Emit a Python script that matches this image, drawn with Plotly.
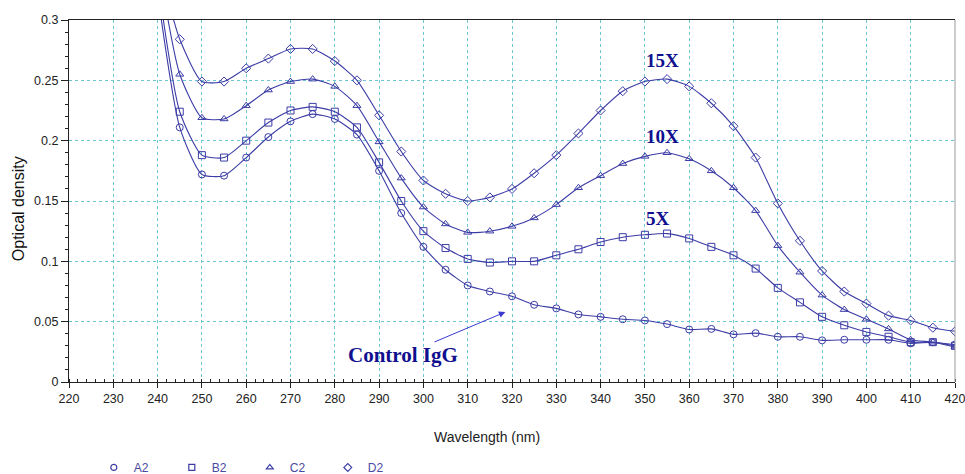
import plotly.graph_objects as go

wavelength = [240, 245, 250, 255, 260, 265, 270, 275, 280, 285, 290, 295, 300, 305, 310, 315, 320,
              325, 330, 335, 340, 345, 350, 355, 360, 365, 370, 375, 380, 385, 390, 395, 400, 405,
              410, 415, 420]

a2 = [0.322, 0.211, 0.172, 0.171, 0.186, 0.203, 0.216, 0.222, 0.218, 0.205, 0.175, 0.140, 0.112,
      0.093, 0.080, 0.075, 0.071, 0.064, 0.061, 0.056, 0.054, 0.052, 0.051, 0.048, 0.0435, 0.044,
      0.0395, 0.0405, 0.0375, 0.0375, 0.0345, 0.035, 0.035, 0.035, 0.032, 0.033, 0.031]
b2 = [0.333, 0.224, 0.188, 0.186, 0.200, 0.215, 0.225, 0.228, 0.224, 0.211, 0.182, 0.150, 0.125,
      0.111, 0.102, 0.099, 0.100, 0.100, 0.105, 0.110, 0.116, 0.120, 0.122, 0.123, 0.119, 0.112,
      0.105, 0.094, 0.078, 0.066, 0.054, 0.047, 0.0415, 0.0375, 0.033, 0.033, 0.030]
c2 = [0.350, 0.255, 0.219, 0.218, 0.229, 0.242, 0.249, 0.251, 0.245, 0.229, 0.199, 0.169, 0.145,
      0.131, 0.124, 0.125, 0.129, 0.136, 0.147, 0.161, 0.171, 0.181, 0.187, 0.190, 0.185, 0.175,
      0.161, 0.142, 0.113, 0.091, 0.072, 0.060, 0.052, 0.044, 0.035, 0.033, 0.029]
d2 = [0.350, 0.284, 0.249, 0.249, 0.260, 0.268, 0.276, 0.276, 0.266, 0.250, 0.221, 0.191, 0.167,
      0.156, 0.150, 0.153, 0.160, 0.173, 0.188, 0.206, 0.225, 0.241, 0.249, 0.251, 0.245, 0.231,
      0.212, 0.186, 0.148, 0.117, 0.092, 0.075, 0.065, 0.055, 0.051, 0.045, 0.042]

series_names = ["A2", "B2", "C2", "D2"]
series_values = [a2, b2, c2, d2]
series_symbols = ["circle-open", "square-open", "triangle-up-open", "diamond-open"]

x_ticks = [220, 230, 240, 250, 260, 270, 280, 290, 300, 310, 320, 330, 340, 350, 360, 370, 380,
           390, 400, 410, 420]
y_ticks = [0, 0.05, 0.1, 0.15, 0.2, 0.25, 0.3]
y_tick_labels = ["0", "0.05", "0.1", "0.15", "0.2", "0.25", "0.3"]

label_texts = ["15X", "10X", "5X"]
label_x = [354, 354, 353]
label_y = [0.2665, 0.2035, 0.1355]

LINE = "#3c3ca6"
TEXT = "#10108f"
GRID = "#6cc6d2"

fig = go.Figure()
for name, vals, sym in zip(series_names, series_values, series_symbols):
    fig.add_trace(go.Scatter(
        x=wavelength, y=vals, mode="lines+markers", name=name, showlegend=False,
        line=dict(color=LINE, width=1.1, shape="spline", smoothing=0.6),
        marker=dict(symbol=sym, size=7, color=LINE, line=dict(width=1, color=LINE)),
        cliponaxis=True,
    ))
for name, sym in zip(series_names, series_symbols):
    fig.add_trace(go.Scatter(
        x=[None], y=[None], mode="markers", name=name, showlegend=True,
        marker=dict(symbol=sym, size=6, color=LINE, line=dict(width=1.2, color=LINE)),
    ))

for t, xx, yy in zip(label_texts, label_x, label_y):
    fig.add_annotation(x=xx, y=yy, text="<b>" + t + "</b>", showarrow=False,
                       font=dict(family="Liberation Serif", size=19, color=TEXT))

fig.add_annotation(x=318.5, y=0.058, ax=295.3, ay=0.022, axref="x", ayref="y",
                   text="<b>Control IgG</b>", showarrow=True, arrowhead=2, arrowsize=1.3,
                   arrowwidth=1, arrowcolor="#3a3ad0",
                   font=dict(family="Liberation Serif", size=21, color=TEXT))

fig.add_annotation(x=0.472, y=-0.152, xref="paper", yref="paper", text="Wavelength (nm)",
                   xanchor="center", yanchor="middle",
                   showarrow=False, font=dict(family="Arial", size=14, color="#222222"))
fig.add_annotation(x=-0.0576, y=0.48, xref="paper", yref="paper", text="Optical density",
                   xanchor="center", yanchor="middle", textangle=-90, showarrow=False,
                   font=dict(family="Arial", size=16, color="#111111"))

fig.add_shape(type="line", xref="paper", yref="paper", x0=1, x1=1, y0=0, y1=1,
              line=dict(color="#9a9a9a", width=1))

fig.update_layout(
    width=965, height=474,
    margin=dict(l=69, r=10, t=20, b=92, autoexpand=False),
    paper_bgcolor="white", plot_bgcolor="white",
    font=dict(family="Arial", size=12, color="#222222"),
    legend=dict(orientation="h", x=0.028, xanchor="left", y=-0.276, yanchor="bottom",
                font=dict(size=12, color="#4a4aa0"), entrywidth=33, entrywidthmode="pixels",
                itemwidth=30, bgcolor="rgba(0,0,0,0)"),
)
fig.update_xaxes(
    range=[220, 420], tickvals=x_ticks, showgrid=True, gridcolor=GRID, griddash="dot",
    gridwidth=1, showline=True, linecolor="#222222", linewidth=1.3, mirror=True,
    ticks="outside", ticklen=5, tickcolor="#222222", zeroline=False, automargin=False,
    ticklabeloverflow="allow",
    tickfont=dict(size=12.5, color="#222222"),
    minor=dict(dtick=2, ticks="inside", ticklen=3, tickcolor="#222222", showgrid=False),
)
fig.update_yaxes(
    range=[0, 0.3], tickvals=y_ticks, ticktext=y_tick_labels, showgrid=True, gridcolor=GRID,
    griddash="dot", gridwidth=1, showline=True, linecolor="#222222", linewidth=1.3,
    ticks="outside", ticklen=7, tickcolor="#222222", zeroline=False, automargin=False,
    ticklabeloverflow="allow",
    tickfont=dict(size=12.5, color="#222222"),
    minor=dict(dtick=0.01, ticks="outside", ticklen=3, tickcolor="#222222", showgrid=False),
)

fig.write_html("out.html", config={"displayModeBar": False},
               post_script="document.body.style.margin='0px';document.body.style.overflow='hidden';")
